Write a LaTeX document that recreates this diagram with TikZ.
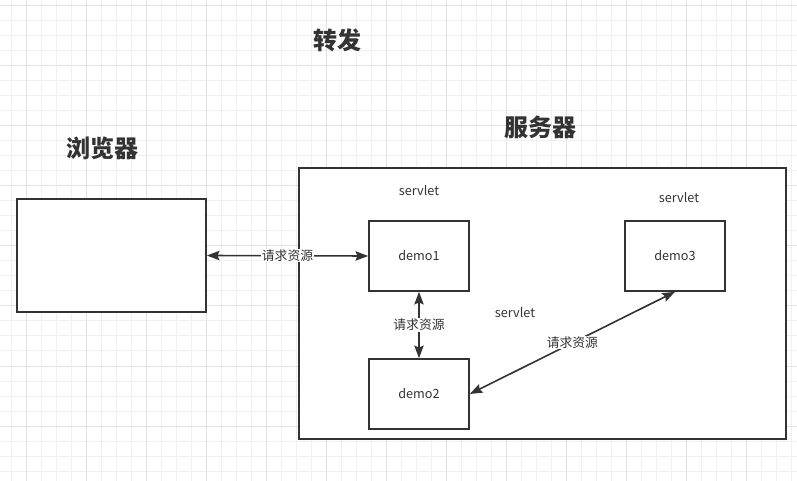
\documentclass[tikz,border=0pt]{standalone}
\usepackage{fontspec}
\setmainfont{Noto Sans CJK SC}
\usetikzlibrary{arrows.meta}
\definecolor{ink}{HTML}{333333}
\definecolor{gridminor}{HTML}{F0F0F0}
\definecolor{gridmajor}{HTML}{E2E2E2}
\begin{document}
\begin{tikzpicture}[x=0.75pt,y=-0.75pt,
  minorline/.style={gridminor,line width=0.75pt},
  majorline/.style={gridmajor,line width=0.75pt},
  box/.style={draw=ink,fill=white,line width=1.2pt,inner sep=0pt},
  title/.style={text=ink,font=\fontsize{18}{20}\selectfont\bfseries},
  plain/.style={text=ink,font=\fontsize{9.5}{11}\selectfont},
  lbl/.style={text=ink,fill=white,inner sep=0.5pt,font=\fontsize{9.6}{10}\selectfont},
  link/.style={draw=ink,line width=1.2pt,{Stealth[length=9.5pt,width=7pt,inset=1.5pt]}-{Stealth[length=9.5pt,width=7pt,inset=1.5pt]}}]
\useasboundingbox (0,0) rectangle (797,481);
\fill[white] (0,0) rectangle (797,481);
\foreach \x in {11.5,26.5,...,797} \draw[minorline] (\x,0) -- (\x,481);
\foreach \y in {6,21,...,481} \draw[minorline] (0,\y) -- (797,\y);
\foreach \x in {26.5,86.5,...,797} \draw[majorline] (\x,0) -- (\x,481);
\foreach \y in {6,66,...,481} \draw[majorline] (0,\y) -- (797,\y);

% boxes
\node[box,minimum width=189*0.75pt,minimum height=113*0.75pt] (browser) at (111.5,255.5) {};
\node[box,minimum width=487*0.75pt,minimum height=271*0.75pt] (server) at (542.5,303.5) {};
\node[box,minimum width=100*0.75pt,minimum height=70*0.75pt,plain] (demo1) at (419,256) {demo1};
\node[box,minimum width=100*0.75pt,minimum height=70*0.75pt,plain] (demo3) at (675,256) {demo3};
\node[box,minimum width=100*0.75pt,minimum height=70*0.75pt,plain] (demo2) at (419,394) {demo2};

% titles
\node[title] (ttrans) at (337,40) {转发};
\node[title] (tserver) at (540,127) {服务器};
\node[title] (tbrowser) at (102,148) {浏览器};

% servlet labels
\node[plain] (s1) at (419,191) {servlet};
\node[plain] (s3) at (679,198) {servlet};
\node[plain] (s2) at (515,313) {servlet};

% connectors
\draw[link] (browser.east) -- node[lbl,pos=0.5] (l1) {请求资源} (demo1.west);
\draw[link] (demo1.south) -- node[lbl] (l2) {请求资源} (demo2.north);
\draw[link] (demo2.east) -- node[lbl,pos=0.5] (l3) {请求资源} (demo3.south);
\end{tikzpicture}
\end{document}
